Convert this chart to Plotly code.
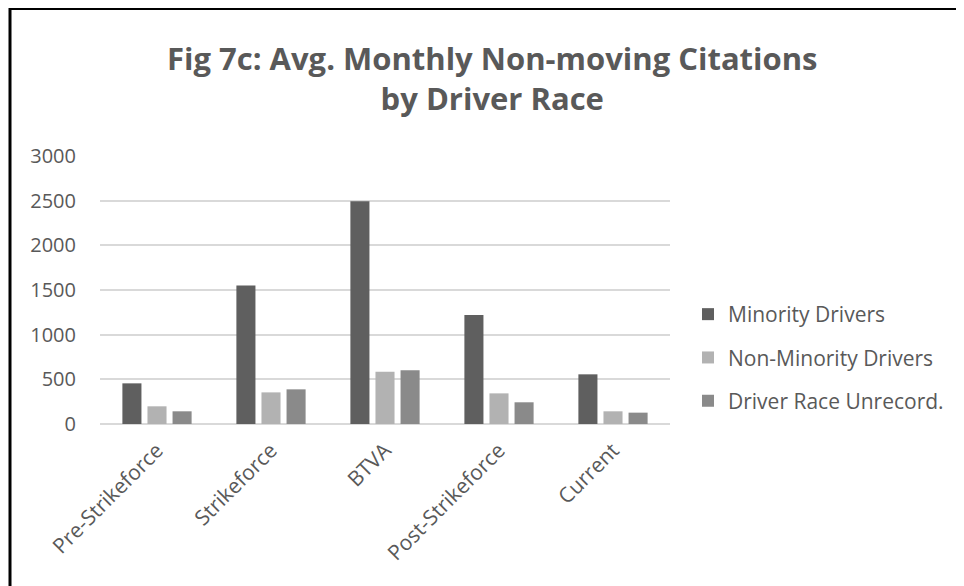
import plotly.graph_objects as go

categories = ["Pre-Strikeforce", "Strikeforce", "BTVA", "Post-Strikeforce", "Current"]
minority = [455, 1549, 2493, 1220, 556]
non_minority = [198, 354, 586, 343, 142]
unrecorded = [142, 388, 601, 243, 127]
y_ticks = [0, 500, 1000, 1500, 2000, 2500, 3000]

series = [
    ("Minority Drivers", minority, "#5f5f5f"),
    ("Non-Minority Drivers", non_minority, "#b2b2b2"),
    ("Driver Race Unrecord.", unrecorded, "#8a8a8a"),
]

W, H = 964, 586
L, T = 92, 148
pw, ph = 570, 268
R, B = W - L - pw, H - T - ph

def px(x):  # container x -> paper
    return (x - L) / pw

def py(y):  # container y (from top) -> paper
    return (T + ph - y) / ph

fig = go.Figure()
for i, (name, vals, col) in enumerate(series):
    fig.add_trace(go.Bar(x=categories, y=vals, name=name, marker_color=col,
                         marker_line_width=0, legendgroup=f"g{i}"))

font = "'Open Sans', Lato, sans-serif"
fig.update_layout(
    width=W, height=H,
    margin=dict(l=L, r=R, t=T, b=B),
    paper_bgcolor="white", plot_bgcolor="white",
    barmode="group", bargap=0.34, bargroupgap=0.24,
    font=dict(family=font, color="#595959", size=20),
    legend=dict(
        x=px(680), xanchor="left", xref="paper",
        y=py(286), yanchor="top", yref="paper",
        font=dict(size=21, color="#595959"),
        tracegroupgap=13, bgcolor="rgba(0,0,0,0)",
    ),
    showlegend=True,
)
fig.add_annotation(
    text="<b>Fig 7c: Avg. Monthly Non-moving Citations<br>by Driver Race</b>",
    xref="paper", yref="paper", x=px(484), y=py(27),
    xanchor="center", yanchor="top", showarrow=False, align="center",
    font=dict(family=font, size=31, color="#595959"),
)
fig.update_xaxes(tickangle=-45, showgrid=False, showline=False, ticks="",
                 ticklabelstandoff=9,
                 tickfont=dict(size=21, color="#595959"))
fig.update_yaxes(range=[0, 3000], tickvals=y_ticks, showgrid=True,
                 gridcolor="#d9d9d9", gridwidth=2, zeroline=True,
                 zerolinecolor="#d9d9d9", zerolinewidth=2, showline=False,
                 ticks="", ticklabelstandoff=23,
                 tickfont=dict(size=20, color="#595959"))

# outer frame
fig.add_shape(type="rect", xref="paper", yref="paper",
              x0=px(2), x1=px(990), y0=py(620), y1=py(0.5),
              line=dict(color="black", width=3), fillcolor="rgba(0,0,0,0)",
              layer="above")

fig.write_html("out.html")
